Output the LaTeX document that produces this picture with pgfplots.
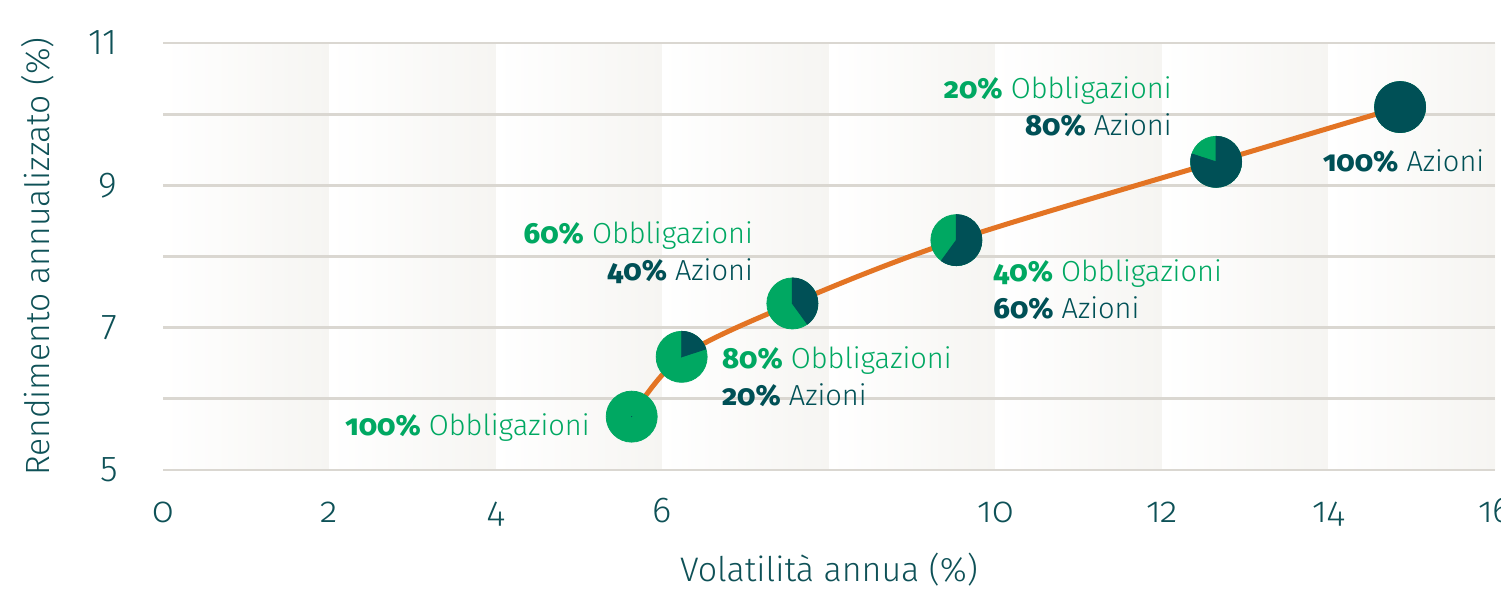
\documentclass[border=0pt]{standalone}
\usepackage{pgfplots}
\pgfplotsset{compat=1.18}
\usepackage{fontspec}
\setmainfont{Fira Sans}[UprightFont=* Light, BoldFont=* ExtraBold, Numbers=OldStyle]
\newfontfamily\liningfont{Fira Sans}[UprightFont=* Light, Numbers=Lining]
\definecolor{cdark}{HTML}{005056}
\definecolor{ctext}{HTML}{0E5157}
\definecolor{cgreen}{HTML}{00A862}
\definecolor{corange}{HTML}{E37424}
\definecolor{cgrid}{HTML}{DAD7D1}
\definecolor{cband}{HTML}{F6F5F2}
\begin{document}
\begin{tikzpicture}
\begin{axis}[
  set layers,
  scale only axis, width=666pt, height=213.5pt,
  xmin=0, xmax=16, ymin=5, ymax=11,
  axis line style={draw=none},
  tick style={draw=none},
  xtick={0,2,4,6,10,12,14,16},
  xticklabels={0,2,4,6,10,12,14,16},
  ytick={5,6,7,8,9,10,11},
  yticklabels={5,,7,,9,,11},
  ymajorgrids, grid style={cgrid, line width=1.4pt},
  xticklabel style={anchor=base, yshift=-26.5pt, font=\fontsize{18}{20}\selectfont, text=ctext},
  yticklabel style={anchor=east, inner sep=0pt, xshift=-22.5pt, font=\liningfont\fontsize{18}{20}\selectfont, text=ctext},
  xlabel={Volatilità annua (\%)},
  ylabel={Rendimento annualizzato (\%)},
  xlabel style={at={(axis description cs:0.5,-0.233)}, anchor=center, font=\fontsize{17}{20}\selectfont, text=ctext},
  ylabel style={at={(axis description cs:-0.0938,0.5)}, anchor=center, font=\fontsize{16.8}{20}\selectfont, text=ctext},
  clip=false,
]
\coordinate (O) at (rel axis cs:0,0);
% background bands (gradient from white to light grey within each 2-unit band)
\addplot[draw=none, left color=white, right color=cband, on layer=axis background] coordinates {(0,5) (2,5) (2,11) (0,11)} -- cycle;
\addplot[draw=none, left color=white, right color=cband, on layer=axis background] coordinates {(2,5) (4,5) (4,11) (2,11)} -- cycle;
\addplot[draw=none, left color=white, right color=cband, on layer=axis background] coordinates {(4,5) (6,5) (6,11) (4,11)} -- cycle;
\addplot[draw=none, left color=white, right color=cband, on layer=axis background] coordinates {(6,5) (8,5) (8,11) (6,11)} -- cycle;
\addplot[draw=none, left color=white, right color=cband, on layer=axis background] coordinates {(8,5) (10,5) (10,11) (8,11)} -- cycle;
\addplot[draw=none, left color=white, right color=cband, on layer=axis background] coordinates {(10,5) (12,5) (12,11) (10,11)} -- cycle;
\addplot[draw=none, left color=white, right color=cband, on layer=axis background] coordinates {(12,5) (14,5) (14,11) (12,11)} -- cycle;
\addplot[draw=none, left color=white, right color=cband, on layer=axis background] coordinates {(14,5) (16,5) (16,11) (14,11)} -- cycle;
% efficient frontier curve
\addplot[corange, line width=2.5pt, smooth, tension=0.55] coordinates {
  (5.63,5.75) (6.23,6.59) (7.56,7.34) (9.53,8.23) (12.65,9.33) (14.86,10.10)
};
% pie markers: az = share of equities
\addplot[scatter, only marks, mark=*, mark size=0.01pt, cdark,
  mark options={draw=none, fill=none},
  point meta=\thisrow{az},
  visualization depends on={\thisrow{az} \as \az},
  scatter/@pre marker code/.code={%
    \pgfmathsetmacro{\endang}{90-360*\az}%
    \fill[cgreen, fill opacity=1, draw opacity=1] (0pt,0pt) circle[radius=12.75pt];%
    \pgfmathparse{ifthenelse(\az>0.001,1,0)}%
    \ifdim\pgfmathresult pt>0.5pt
      \fill[cdark, fill opacity=1, draw opacity=1] (0pt,0pt) -- (0pt,12.75pt) arc[start angle=90, end angle=\endang, radius=12.75pt] -- cycle;%
    \fi
  },
  scatter/@post marker code/.code={},
] table[x=x, y=y] {
x y az
5.63 5.75 0.0
6.23 6.59 0.2
7.56 7.34 0.4
9.53 8.23 0.6
12.65 9.33 0.8
14.86 10.10 1.0
};
% labels
\tikzset{lab/.style={font=\fontsize{14.5}{18.5}\selectfont, inner sep=0pt}}
\node[lab, anchor=east, align=right] at (axis cs:5.13,5.59) {\textcolor{cgreen}{\textbf{100\%} Obbligazioni}};
\node[lab, anchor=west, align=left] at (axis cs:6.71,6.31) {\textcolor{cgreen}{\textbf{80\%} Obbligazioni}\\\textcolor{cdark}{\textbf{20\%} Azioni}};
\node[lab, anchor=east, align=right] at (axis cs:7.09,8.05) {\textcolor{cgreen}{\textbf{60\%} Obbligazioni}\\\textcolor{cdark}{\textbf{40\%} Azioni}};
\node[lab, anchor=west, align=left] at (axis cs:9.97,7.53) {\textcolor{cgreen}{\textbf{40\%} Obbligazioni}\\\textcolor{cdark}{\textbf{60\%} Azioni}};
\node[lab, anchor=east, align=right] at (axis cs:12.12,10.11) {\textcolor{cgreen}{\textbf{20\%} Obbligazioni}\\\textcolor{cdark}{\textbf{80\%} Azioni}};
\node[lab, anchor=west, align=left] at (axis cs:13.93,9.34) {\textcolor{cdark}{\textbf{100\%} Azioni}};
\end{axis}
\pgfresetboundingbox
\path[use as bounding box] ([xshift=-81.5pt, yshift=-59.5pt]O) rectangle ([xshift=669pt, yshift=235pt]O);
\end{tikzpicture}
\end{document}
